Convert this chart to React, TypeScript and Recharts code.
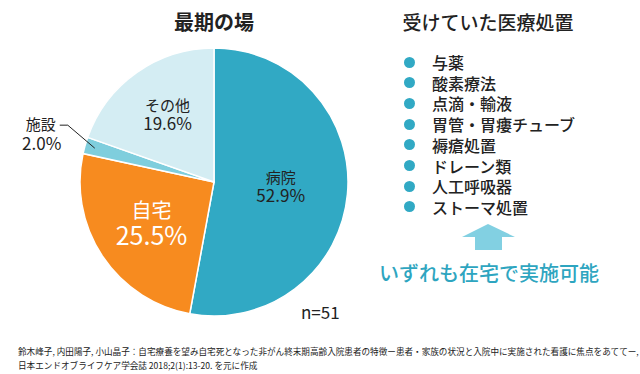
import { PieChart, Pie, Cell } from 'recharts'

const places = ['病院', '自宅', '施設', 'その他']
const shares = [52.9, 25.5, 2.0, 19.6]
const sliceColors = ['#31a9c4', '#f78b1f', '#7fcedd', '#d4edf3']
const treatments = ['与薬', '酸素療法', '点滴・輸液', '胃管・胃瘻チューブ', '褥瘡処置', 'ドレーン類', '人工呼吸器', 'ストーマ処置']
const sampleNote = 'n=51'
const sourceLines = [
  '鈴木峰子, 内田陽子, 小山晶子：自宅療養を望み自宅死となった非がん終末期高齢入院患者の特徴ー患者・家族の状況と入院中に実施された看護に焦点をあててー,',
  '日本エンドオブライフケア学会誌 2018;2(1):13-20. を元に作成',
]

const chartData = places.map((name, i) => ({ name, value: shares[i] }))

const FONT = '"Noto Sans CJK JP", "Noto Sans", sans-serif'
const RADIAN = Math.PI / 180

// how far out each label sits, as a share of the radius
const labelRadius: Record<string, number> = { '病院': 0.5, '自宅': 0.56, 'その他': 0.6 }

function renderLabel(props: any) {
  const { cx, cy, midAngle, outerRadius, name, value } = props
  const cos = Math.cos(-midAngle * RADIAN)
  const sin = Math.sin(-midAngle * RADIAN)
  const pct = `${Number(value).toFixed(1)}%`

  if (name === '施設') {
    const px = cx + outerRadius * 0.925 * cos
    const py = cy + outerRadius * 0.925 * sin
    const ex = px - 27
    const ey = py - 23
    return (
      <g>
        <polyline points={`${ex - 8},${ey} ${ex},${ey} ${px},${py}`} fill="none" stroke="#222" strokeWidth={1} />
        <text textAnchor="middle" fill="#222" fontFamily={FONT}>
          <tspan x={ex - 27} y={ey + 5} fontSize={15}>{name}</tspan>
          <tspan x={ex - 26} y={ey + 25} fontSize={17}>{pct}</tspan>
        </text>
      </g>
    )
  }

  const r = outerRadius * (labelRadius[name] ?? 0.55)
  const x = cx + r * cos
  const y = cy + r * sin
  const home = name === '自宅'
  return (
    <text textAnchor="middle" fill={home ? '#fff' : '#222'} fontFamily={FONT}>
      <tspan x={x} y={y + (home ? -6 : -5)} fontSize={home ? 20 : 15}>{name}</tspan>
      <tspan x={x} y={y + (home ? 21 : 14)} fontSize={home ? 25 : 17}>{pct}</tspan>
    </text>
  )
}

export default function App() {
  return (
    <div style={{ position: 'absolute', left: 0, top: 0, width: 640, height: 374, background: '#fff', fontFamily: FONT, color: '#222' }}>
      <PieChart width={640} height={374} margin={{ top: 0, right: 0, bottom: 0, left: 0 }} style={{ position: 'absolute', left: 0, top: 0 }}>
        <Pie
          data={chartData} dataKey="value" nameKey="name"
          cx={214} cy={182} outerRadius={134} innerRadius={0}
          startAngle={90} endAngle={-270}
          stroke="#fff" strokeWidth={1.5}
          label={renderLabel} labelLine={false}
          isAnimationActive={false}
        >
          {chartData.map((d, i) => <Cell key={d.name} fill={sliceColors[i]} />)}
        </Pie>
      </PieChart>

      <div style={{ position: 'absolute', left: 0, width: 428, top: 7, textAlign: 'center', fontSize: 20, fontWeight: 700, lineHeight: '30px' }}>最期の場</div>
      <div style={{ position: 'absolute', left: 301, top: 298, fontSize: 17, lineHeight: '28px' }}>{sampleNote}</div>

      <div style={{ position: 'absolute', left: 360, width: 256, top: 7, textAlign: 'center', fontSize: 19, fontWeight: 500, lineHeight: '30px' }}>受けていた医療処置</div>

      {treatments.map((t, i) => (
        <div key={t} style={{ position: 'absolute', left: 404, top: 51 + i * 20.7, height: 22, display: 'flex', alignItems: 'center' }}>
          <span style={{ width: 11, height: 11, borderRadius: '50%', background: '#31a9c4', display: 'inline-block' }} />
          <span style={{ marginLeft: 17, fontSize: 16, fontWeight: 500, lineHeight: '22px' }}>{t}</span>
        </div>
      ))}

      <svg width={640} height={374} style={{ position: 'absolute', left: 0, top: 0, pointerEvents: 'none' }}>
        <polygon points="462,237 488,224 515,237 502,237 502,250 475,250 475,237" fill="#82d0e2" />
      </svg>

      <div style={{ position: 'absolute', left: 360, width: 258, top: 259, textAlign: 'center', fontSize: 20, fontWeight: 500, color: '#2ea5c0', lineHeight: '28px' }}>いずれも在宅で実施可能</div>

      {sourceLines.map((s, i) => (
        <div key={i} style={{ position: 'absolute', left: 18, top: 345 + i * 14, fontSize: 8.6, lineHeight: '12px', whiteSpace: 'nowrap', color: '#222' }}>{s}</div>
      ))}
    </div>
  )
}
